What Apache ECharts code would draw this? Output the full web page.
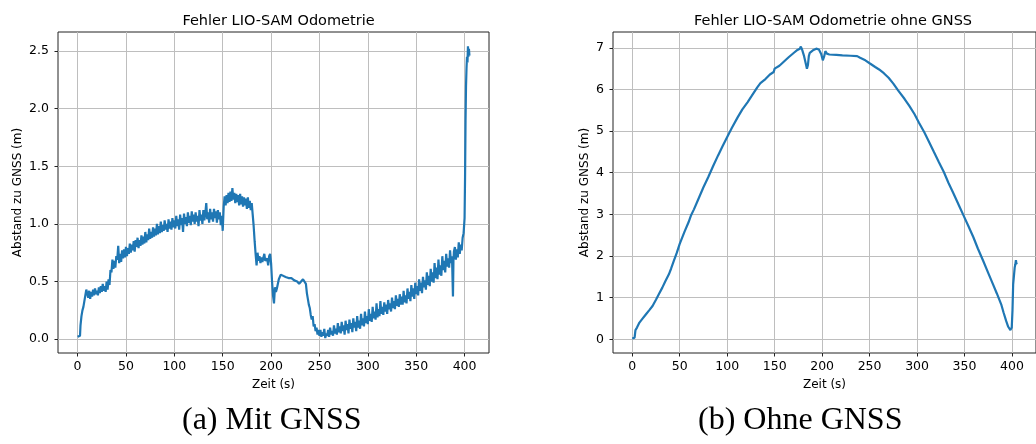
<!DOCTYPE html>
<html lang="de">
<head>
    <meta charset="utf-8">
    <title>Fehler LIO-SAM Odometrie</title>
    <script src="https://cdn.jsdelivr.net/npm/echarts@6/dist/echarts.min.js"></script>
    <style>
        html, body { margin: 0; padding: 0; background: #fff; }
        #main { width: 1036px; height: 444px; }
    </style>
</head>
<body>
<div id="main"></div>
<script type="text/javascript">
    // Achsenbeschriftung
    var zeitTicks = [0, 50, 100, 150, 200, 250, 300, 350, 400];
    var abstandTicksA = [0, 0.5, 1.0, 1.5, 2.0, 2.5];
    var abstandTicksB = [0, 1, 2, 3, 4, 5, 6, 7];
    var titel = ['Fehler LIO-SAM Odometrie', 'Fehler LIO-SAM Odometrie ohne GNSS'];
    var unterschriften = ['(a) Mit GNSS', '(b) Ohne GNSS'];

    // Abstand zu GNSS (m) ueber Zeit (s), mit GNSS
    var fehlerMitGnss = [
        [0,0.02],[1,0.01],[2,0.02],[2.5,0.03],[3,0.12],[4,0.2],[5,0.25],[6,0.28],[7,0.33],[8,0.38],[9,0.43],[10,0.44],[11,0.36],
        [12,0.42],[13,0.35],[14,0.41],[15,0.37],[16,0.43],[17,0.38],[18,0.44],[19,0.39],[20,0.42],[21,0.38],[22,0.45],[23,0.4],
        [24,0.46],[25,0.41],[26,0.48],[27,0.42],[28,0.46],[29,0.41],[30,0.5],[31,0.43],[32,0.52],[33,0.47],[34,0.6],[35,0.58],
        [36,0.69],[37,0.61],[38,0.68],[39,0.62],[40,0.72],[41,0.69],[42,0.81],[43,0.66],[44,0.74],[45,0.67],[46,0.77],[47,0.7],
        [48,0.78],[49,0.71],[50,0.8],[51,0.72],[52,0.79],[53,0.74],[54,0.83],[55,0.75],[56,0.82],[57,0.77],[58,0.85],[59,0.76],
        [60,0.86],[61,0.8],[62,0.88],[63,0.79],[64,0.86],[65,0.81],[66,0.9],[67,0.82],[68,0.89],[69,0.83],[70,0.93],[71,0.84],
        [72,0.91],[73,0.86],[74,0.96],[75,0.87],[76,0.93],[77,0.88],[78,0.97],[79,0.89],[80,0.96],[81,0.9],[82,1.0],[83,0.91],
        [84,0.98],[85,0.92],[86,1.02],[87,0.93],[88,0.99],[89,0.94],[90,1.03],[91,0.95],[92,1.0],[93,0.93],[94,1.04],[95,0.96],
        [96,1.02],[97,0.95],[98,1.05],[99,0.97],[100,1.03],[101,0.96],[102,1.07],[103,0.98],[104,1.04],[105,0.95],[106,1.08],
        [107,0.99],[108,1.05],[109,0.93],[110,1.09],[111,1.0],[112,1.06],[113,0.98],[114,1.1],[115,1.01],[116,1.07],[117,0.99],
        [118,1.11],[119,1.02],[120,1.08],[121,1.0],[122,1.1],[123,1.02],[124,1.07],[125,0.98],[126,1.12],[127,1.03],[128,1.08],
        [129,1.0],[130,1.12],[131,1.03],[132,1.09],[133,1.18],[134,1.04],[135,1.1],[136,1.01],[137,1.13],[138,1.04],[139,1.1],
        [140,1.02],[141,1.13],[142,1.05],[143,1.11],[144,1.01],[145,1.12],[146,1.04],[147,1.1],[148,0.99],[149,1.07],[150,0.94],
        [151,1.15],[152,1.24],[153,1.16],[154,1.25],[155,1.18],[156,1.27],[157,1.19],[158,1.28],[159,1.2],[160,1.31],[161,1.21],
        [162,1.27],[163,1.18],[164,1.26],[165,1.19],[166,1.25],[167,1.16],[168,1.26],[169,1.17],[170,1.24],[171,1.15],[172,1.23],
        [173,1.16],[174,1.22],[175,1.13],[176,1.23],[177,1.14],[178,1.2],[179,1.12],[180,1.18],[181,1.08],[182,0.98],[183,0.85],
        [184,0.74],[185,0.64],[186,0.75],[187,0.68],[188,0.72],[189,0.66],[190,0.71],[191,0.67],[193,0.74],[194,0.68],[196,0.7],
        [197,0.64],[198,0.72],[199,0.74],[200,0.66],[201,0.5],[202,0.38],[203,0.31],[204,0.45],[205,0.41],[206,0.44],[208,0.52],
        [210,0.56],[212,0.55],[215,0.54],[218,0.53],[221,0.53],[224,0.51],[227,0.5],[229,0.48],[230,0.47],[231,0.5],[233,0.52],
        [234,0.53],[235,0.51],[236,0.48],[237,0.4],[238,0.35],[239,0.3],[240,0.27],[241,0.21],[242,0.17],[243,0.2],[244,0.11],
        [245,0.13],[246,0.07],[247,0.1],[248,0.04],[249,0.08],
        [250,0.03],[251,0.08],[252,0.02],[253,0.06],[254,0.03],[255,0.09],[256,0.01],[257,0.05],[258,0.03],[259,0.08],[260,0.02],
        [261,0.1],[262,0.04],[263,0.07],[264,0.03],[265,0.12],[266,0.05],[267,0.09],[268,0.04],[269,0.14],[270,0.06],[271,0.11],
        [272,0.05],[273,0.15],[274,0.07],[275,0.12],[276,0.04],[277,0.16],[278,0.08],[279,0.13],[280,0.05],[281,0.17],[282,0.09],
        [283,0.14],[284,0.06],[285,0.18],[286,0.1],[287,0.15],[288,0.07],[289,0.2],[290,0.1],[291,0.16],[292,0.09],[293,0.22],
        [294,0.12],[295,0.18],[296,0.11],[297,0.24],[298,0.14],[299,0.2],[300,0.13],[301,0.26],[302,0.16],[303,0.22],[304,0.15],
        [305,0.28],[306,0.18],[307,0.24],[308,0.17],[309,0.31],[310,0.19],[311,0.26],[312,0.2],[313,0.33],[314,0.22],[315,0.28],
        [316,0.21],[317,0.32],[318,0.24],[319,0.3],[320,0.22],[321,0.34],[322,0.26],[323,0.31],[324,0.24],[325,0.36],[326,0.27],
        [327,0.33],[328,0.26],[329,0.38],[330,0.29],[331,0.35],[332,0.28],[333,0.39],[334,0.3],[335,0.37],[336,0.3],[337,0.42],
        [338,0.32],[339,0.38],[340,0.31],[341,0.44],[342,0.35],[343,0.41],[344,0.33],[345,0.47],[346,0.37],[347,0.44],[348,0.35],
        [349,0.49],[350,0.39],[351,0.46],[352,0.38],[353,0.52],[354,0.42],[355,0.49],[356,0.4],[357,0.54],[358,0.45],[359,0.51],
        [360,0.43],[361,0.58],[362,0.47],[363,0.55],[364,0.46],[365,0.61],[366,0.5],[367,0.58],[368,0.49],[369,0.66],[370,0.53],
        [371,0.62],[372,0.52],[373,0.69],[374,0.56],[375,0.64],[376,0.55],[377,0.72],[378,0.6],[379,0.68],[380,0.58],[381,0.74],
        [382,0.63],[383,0.7],[384,0.62],[385,0.77],[386,0.66],[387,0.72],[388,0.37],[388.5,0.68],[389,0.76],[390,0.8],[391,0.69],
        [392,0.78],[393,0.71],[394,0.84],[395,0.74],[396,0.82],[397,0.77],[398,0.88],[399,0.92],[400,1.05],[400.5,1.4],[401,1.9],
        [401.5,2.2],[402,2.35],[402.5,2.45],[403,2.4],[403.5,2.54],[404,2.45],[404.5,2.52],[405,2.46]
    ];

    // Abstand zu GNSS (m) ueber Zeit (s), ohne GNSS
    var fehlerOhneGnss = [
        [0,0.02],[1.5,0.02],[2.5,0.04],[3.4,0.22],[5,0.28],[7.6,0.4],[10,0.47],[14.5,0.6],[18,0.7],[21.4,0.8],[25,0.95],[28,1.08],
        [31.7,1.24],[35,1.4],[38.6,1.56],[41,1.7],[43.8,1.88],[47,2.08],[50,2.29],[55,2.58],[59.3,2.81],[62,2.98],[65,3.12],
        [69.7,3.37],[75,3.65],[80,3.89],[85,4.15],[90.3,4.41],[95,4.63],[100.7,4.89],[105,5.08],[111,5.33],[116,5.52],[121.4,5.69],
        [126,5.85],[131.7,6.05],[135,6.15],[140.3,6.25],[145,6.36],[149,6.42],[150,6.5],[155,6.57],[159.3,6.66],[165,6.78],
        [169.7,6.87],[174,6.95],[176.5,6.98],[177.6,7.03],[179,6.95],[181,6.8],[183,6.6],[184,6.5],[185,6.58],[186,6.8],[187,6.88],
        [190.3,6.94],[193.8,6.98],[196.6,6.96],[199,6.85],[200.7,6.7],[202,6.78],[203.4,6.92],[205,6.86],[207.6,6.84],[215,6.83],
        [221.4,6.82],[230,6.81],[236.9,6.8],[240,6.76],[245.5,6.7],[250,6.63],[255.9,6.54],[260,6.48],[265,6.39],[270,6.28],
        [275,6.14],[280,5.98],[286.9,5.77],[292,5.6],[297.2,5.41],[302,5.2],[307.6,4.97],[312,4.77],[317.9,4.49],[323,4.25],
        [328.3,4.01],[333,3.76],[338.6,3.49],[344,3.22],[349,2.97],[354,2.72],[359.3,2.45],[364,2.18],[369.7,1.88],[375,1.59],
        [380,1.32],[384,1.1],[388.6,0.84],[391,0.65],[393.8,0.44],[396,0.3],[398.3,0.22],[399.7,0.28],[400.5,0.7],[401.2,1.32],
        [402.8,1.72],[403.5,1.8],[404.1,1.9],[404.6,1.82],[405.2,1.8]
    ];

    var schrift = 'DejaVu Sans';
    var myChart = echarts.init(document.getElementById('main'));

    function xAchse(gridIndex) {
        return {
            type: 'value',
            gridIndex: gridIndex,
            min: -20.25,
            max: 425.25,
            name: 'Zeit (s)',
            nameLocation: 'middle',
            nameGap: 26,
            nameTextStyle: { fontFamily: schrift, fontSize: 12, color: '#000' },
            axisLine: { show: false, onZero: false },
            axisTick: { show: true, length: 3.5, customValues: zeitTicks, lineStyle: { color: '#222' } },
            axisLabel: { customValues: zeitTicks, margin: 7, fontFamily: schrift, fontSize: 12.5, color: '#000' },
            splitLine: { show: true, lineStyle: { color: '#bebebe', width: 1 } }
        };
    }

    function yAchse(gridIndex, min, max, ticks, gap, stellen) {
        return {
            type: 'value',
            gridIndex: gridIndex,
            min: min,
            max: max,
            name: 'Abstand zu GNSS (m)',
            nameLocation: 'middle',
            nameRotate: 90,
            nameGap: gap,
            nameTextStyle: { fontFamily: schrift, fontSize: 12, color: '#000' },
            axisLine: { show: false, onZero: false },
            axisTick: { show: true, length: 3.5, customValues: ticks, lineStyle: { color: '#222' } },
            axisLabel: {
                customValues: ticks, margin: 9, fontFamily: schrift, fontSize: 12.5, color: '#000',
                formatter: function (v) { return v.toFixed(stellen); }
            },
            splitLine: { show: true, lineStyle: { color: '#bebebe', width: 1 } }
        };
    }

    myChart.setOption({
        animation: false,
        title: [
            { text: titel[0], left: 273.5, top: 9, textAlign: 'center',
              textStyle: { fontFamily: schrift, fontSize: 14.5, fontWeight: 'normal', color: '#000' } },
            { text: titel[1], left: 828, top: 9, textAlign: 'center',
              textStyle: { fontFamily: schrift, fontSize: 14.5, fontWeight: 'normal', color: '#000' } }
        ],
        grid: [
            { left: 58, right: 547, top: 32, bottom: 91, show: true, borderColor: '#222', borderWidth: 1, backgroundColor: 'transparent' },
            { left: 613, right: -7, top: 32, bottom: 91, show: true, borderColor: '#222', borderWidth: 1, backgroundColor: 'transparent' }
        ],
        xAxis: [xAchse(0), xAchse(1)],
        yAxis: [
            yAchse(0, -0.12, 2.665, abstandTicksA, 34, 1),
            yAchse(1, -0.33, 7.38, abstandTicksB, 22, 0)
        ],
        series: [
            {
                name: 'Mit GNSS', type: 'line', xAxisIndex: 0, yAxisIndex: 0,
                data: fehlerMitGnss, showSymbol: false, sampling: null,
                lineStyle: { color: '#1f77b4', width: 2.2 }
            },
            {
                name: 'Ohne GNSS', type: 'line', xAxisIndex: 1, yAxisIndex: 1,
                data: fehlerOhneGnss, showSymbol: false,
                lineStyle: { color: '#1f77b4', width: 2.2 }
            }
        ],
        graphic: [
            { type: 'text', left: 273 - 91, top: 405,
              style: { text: unterschriften[0], font: '32px "Liberation Serif"', fill: '#000' } },
            { type: 'text', left: 793 - 95, top: 405,
              style: { text: unterschriften[1], font: '32px "Liberation Serif"', fill: '#000' } }
        ]
    });
</script>
</body>
</html>
